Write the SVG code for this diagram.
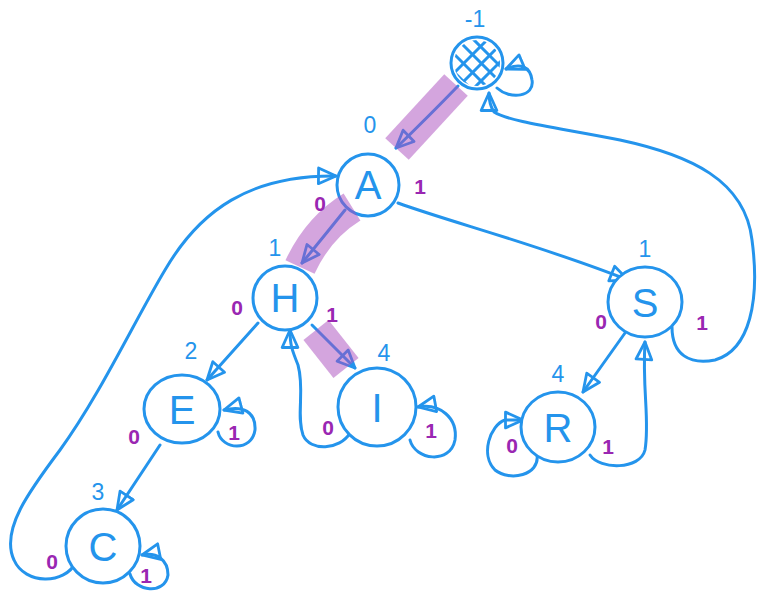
<svg xmlns="http://www.w3.org/2000/svg" width="757" height="592" viewBox="0 0 757 592">
<style>
.ln{fill:none;stroke:#2494ec;stroke-width:3;stroke-linecap:round;stroke-linejoin:round}
.nd{fill:#fff;stroke:#2494ec;stroke-width:3}
.lt{font-family:"Liberation Sans",Arial,sans-serif;font-size:40px;fill:#2494ec;text-anchor:middle}
.nb{font-family:"Liberation Sans",Arial,sans-serif;font-size:23px;fill:#2494ec;text-anchor:middle}
.pl{font-family:"Liberation Sans",Arial,sans-serif;font-size:21px;font-weight:bold;fill:#9a27b2;text-anchor:middle}
.hl{fill:none;stroke:#a94bbd;stroke-opacity:0.5;stroke-width:32;stroke-linecap:butt}
</style>
<defs>
<marker id="ah" viewBox="0 0 12 12" refX="11" refY="6" markerWidth="21" markerHeight="21" markerUnits="userSpaceOnUse" orient="auto">
<path d="M1,1.5 L11,6 L1,10.5 Z" fill="none" stroke="#2494ec" stroke-width="1.6" stroke-linejoin="round"/>
</marker>
<clipPath id="rc"><circle cx="477" cy="63" r="23"/></clipPath>
</defs>
<g id="connectors">
<path class="ln" d="M458,86 Q430,115 396,148" marker-end="url(#ah)"/>
<path class="ln" d="M497,88 C510,100 535,97 532,80 C530,66 520,63 506,69" marker-end="url(#ah)"/>
<path class="ln" d="M672,327 C672,355 690,365 715,360 C750,350 760,300 752,240 C745,180 690,155 620,140 C560,128 510,122 494,112 C490,106 489,100 489,93" marker-end="url(#ah)"/>
<path class="ln" d="M345,210 Q325,235 302,263" marker-end="url(#ah)"/>
<path class="ln" d="M398,203 C450,222 540,245 628,280" marker-end="url(#ah)"/>
<path class="ln" d="M258,323 L207,380" marker-end="url(#ah)"/>
<path class="ln" d="M312,325 L355,368" marker-end="url(#ah)"/>
<path class="ln" d="M350,433 C340,450 310,452 303,435 C296,415 305,390 298,365 C292,350 290,345 290,330" marker-end="url(#ah)"/>
<path class="ln" d="M218,432 C222,450 252,452 255,430 C256,412 243,405 224,410" marker-end="url(#ah)"/>
<path class="ln" d="M160,445 L117,510" marker-end="url(#ah)"/>
<path class="ln" d="M130,574 C135,592 165,595 168,575 C168,560 157,552 142,555" marker-end="url(#ah)"/>
<path class="ln" d="M76,562 C65,585 25,585 14,560 C0,530 30,490 60,450 C100,395 135,320 165,270 C200,210 250,175 336,176" marker-end="url(#ah)"/>
<path class="ln" d="M625,333 L583,392" marker-end="url(#ah)"/>
<path class="ln" d="M537,455 C540,475 510,482 495,470 C480,455 490,425 505,420 L523,420" marker-end="url(#ah)"/>
<path class="ln" d="M590,455 C600,470 640,470 645,450 C650,420 642,390 645,342" marker-end="url(#ah)"/>
<path class="ln" d="M410,440 C415,460 450,465 455,440 C458,418 440,403 418,407" marker-end="url(#ah)"/>
</g>
<g id="node-root">
<circle class="nd" cx="477" cy="63" r="26"/>
<g clip-path="url(#rc)" class="ln">
<path d="M455,55 L485,85 M462,44 L497,79 M472,38 L502,68 M450,68 L472,90"/>
<path d="M460,85 L495,50 M455,72 L485,42 M470,92 L502,60"/>
</g>
<text class="nb" x="475" y="27">-1</text>
</g>
<g id="node-A">
<circle class="nd" cx="368" cy="185" r="31"/>
<text class="lt" x="368" y="199">A</text>
</g>
<g id="node-H">
<circle class="nd" cx="285" cy="298" r="32"/>
<text class="lt" x="285" y="312">H</text>
<text class="nb" x="275" y="256">1</text>
</g>
<g id="node-E">
<ellipse class="nd" cx="182" cy="409" rx="38" ry="34"/>
<text class="lt" x="182" y="424">E</text>
<text class="nb" x="191" y="359">2</text>
</g>
<g id="node-C">
<ellipse class="nd" cx="103" cy="546" rx="37" ry="37"/>
<text class="lt" x="103" y="561">C</text>
<text class="nb" x="98" y="500">3</text>
</g>
<g id="node-I">
<circle class="nd" cx="377" cy="407" r="39"/>
<text class="lt" x="377" y="422">I</text>
<text class="nb" x="384" y="361">4</text>
</g>
<g id="node-S">
<ellipse class="nd" cx="645" cy="302" rx="37" ry="35"/>
<text class="lt" x="645" y="317">S</text>
<text class="nb" x="645" y="257">1</text>
</g>
<g id="node-R">
<ellipse class="nd" cx="558" cy="427" rx="37" ry="35"/>
<text class="lt" x="558" y="442">R</text>
<text class="nb" x="558" y="382">4</text>
</g>
<g id="highlights">
<path class="hl" d="M456,85 L397,149"/>
<path class="hl" d="M352,207 Q318,228 300,267"/>
<path class="hl" d="M316,330 L346,368"/>
</g>
<g id="edge-labels">
<text class="nb" x="370" y="133">0</text>
<text class="pl" x="420" y="194">1</text>
<text class="pl" x="320" y="211">0</text>
<text class="pl" x="237" y="315">0</text>
<text class="pl" x="332" y="322">1</text>
<text class="pl" x="134" y="444">0</text>
<text class="pl" x="234" y="440">1</text>
<text class="pl" x="52" y="569">0</text>
<text class="pl" x="146" y="583">1</text>
<text class="pl" x="328" y="435">0</text>
<text class="pl" x="431" y="438">1</text>
<text class="pl" x="601" y="329">0</text>
<text class="pl" x="702" y="330">1</text>
<text class="pl" x="512" y="453">0</text>
<text class="pl" x="608" y="454">1</text>
</g>
</svg>
